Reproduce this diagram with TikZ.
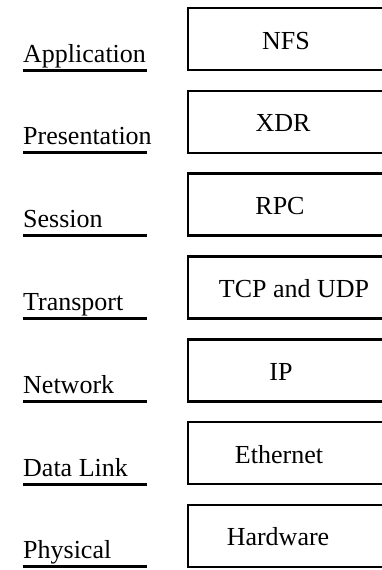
\documentclass[tikz,border=0pt]{standalone}
\usepackage{fontspec}
\setmainfont{Liberation Serif}
\usepackage{tikz}
\usetikzlibrary{positioning}

\begin{document}
\begin{tikzpicture}[x=1pt,y=-1pt,
    every node/.style={font=\fontsize{26}{30}\selectfont},
    protobox/.style={draw=black,line width=2.6pt,minimum width=204pt,minimum height=62pt,inner sep=0pt},
    protoname/.style={anchor=base,inner sep=0pt},
    layername/.style={anchor=base west,inner sep=0pt},
    underline/.style={draw=black,line width=3pt}]
        \useasboundingbox (0,0) rectangle (382,570);
        \fill[white] (0,0) rectangle (382,570);
        \clip (0,0) rectangle (382,570);
        \foreach \i/\layer/\proto/\px in {0/Application/NFS/286,
                                          1/Presentation/XDR/283,
                                          2/Session/RPC/280,
                                          3/Transport/TCP and UDP/294,
                                          4/Network/IP/281,
                                          5/Data Link/Ethernet/279,
                                          6/Physical/Hardware/278}
        {
          % box on the right, cut by the page edge
          \node[protobox] (box\i) at (290,39+82.8*\i) {};
          \node[protoname] (proto\i) at (\px,49+82.8*\i) {\proto};
          % layer name on the left, underlined
          \node[layername] (layer\i) at (23,62+82.8*\i) {\layer};
          \coordinate (ul\i) at (23,70+82.8*\i);
          \coordinate (ur\i) at (147,70+82.8*\i);
          \path[underline] (ul\i) -- (ur\i);
        }
      \end{tikzpicture}
\end{document}
